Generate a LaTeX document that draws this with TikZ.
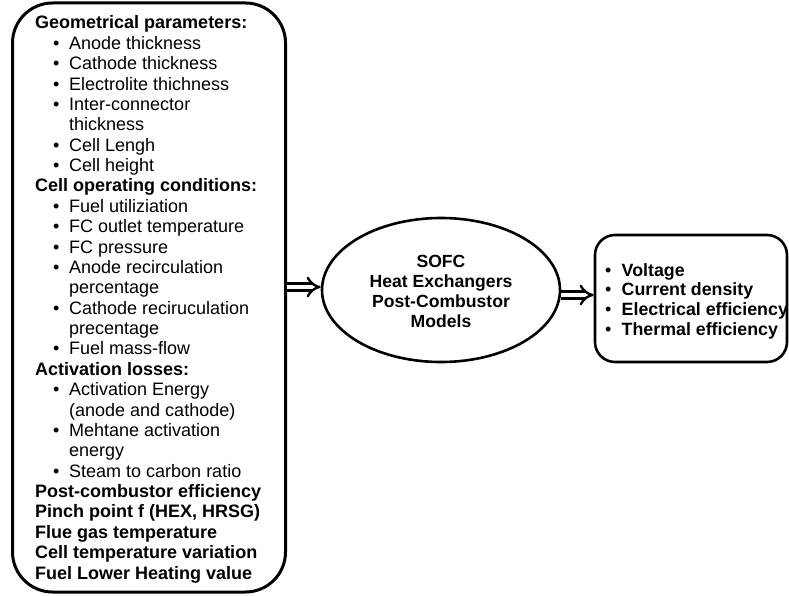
\documentclass[tikz,border=0pt]{standalone}
\usepackage{fontspec}
\setmainfont{Liberation Sans}
\usetikzlibrary{arrows.meta,shapes.geometric}
\tikzset{
  frame/.style={draw=black, line width=3pt, rounded corners=40pt},
  outframe/.style={draw=black, line width=2.6pt, rounded corners=20pt},
  modelshape/.style={draw=black, line width=2.6pt, ellipse, inner sep=0pt},
  hdr/.style={anchor=base west, inner sep=0pt, font=\fontsize{18pt}{20pt}\selectfont\bfseries},
  itm/.style={anchor=base west, inner sep=0pt, font=\fontsize{18pt}{20pt}\selectfont},
  bul/.style={anchor=base west, inner sep=0pt, font=\fontsize{18pt}{20pt}\selectfont},
  ctr/.style={anchor=base, inner sep=0pt, font=\fontsize{17.6pt}{20pt}\selectfont\bfseries},
  obul/.style={anchor=base west, inner sep=0pt, font=\fontsize{18pt}{20pt}\selectfont},
  otxt/.style={anchor=base west, inner sep=0pt, font=\fontsize{17.8pt}{20pt}\selectfont\bfseries},
  flow/.style={draw=black, double=white, double distance=4.5pt, line width=2.4pt, -{Implies[scale=1.1]}},
}
\begin{document}
\begin{tikzpicture}[x=1pt,y=-1pt]
\useasboundingbox (0,0) rectangle (789,596);
% boxes
\node (inputs) [frame, minimum width=273pt, minimum height=589pt] at (149,297.5) {};
\node (model) [modelshape, minimum width=238pt, minimum height=144pt] at (441,290) {};
\node (outputs) [outframe, minimum width=192pt, minimum height=127pt] at (691,298.5) {};
% left box text
\node (l1) [hdr] at (35,29) {Geometrical parameters:};
\node (b2) [bul] at (53,49.4) {•}; \node (l2) [itm] at (69,49.4) {Anode thickness};
\node (b3) [bul] at (53,69.7) {•}; \node (l3) [itm] at (69,69.7) {Cathode thickness};
\node (b4) [bul] at (53,90.1) {•}; \node (l4) [itm] at (69,90.1) {Electrolite thichness};
\node (b5) [bul] at (53,110.5) {•}; \node (l5) [itm] at (69,110.5) {Inter-connector};
\node (l6) [itm] at (69,130.9) {thickness};
\node (b7) [bul] at (53,151.2) {•}; \node (l7) [itm] at (69,151.2) {Cell Lengh};
\node (b8) [bul] at (53,171.6) {•}; \node (l8) [itm] at (69,171.6) {Cell height};
\node (l9) [hdr] at (35,192.0) {Cell operating conditions:};
\node (b10) [bul] at (53,212.3) {•}; \node (l10) [itm] at (69,212.3) {Fuel utiliziation};
\node (b11) [bul] at (53,232.7) {•}; \node (l11) [itm] at (69,232.7) {FC outlet temperature};
\node (b12) [bul] at (53,253.1) {•}; \node (l12) [itm] at (69,253.1) {FC pressure};
\node (b13) [bul] at (53,273.4) {•}; \node (l13) [itm] at (69,273.4) {Anode recirculation};
\node (l14) [itm] at (69,293.8) {percentage};
\node (b15) [bul] at (53,314.2) {•}; \node (l15) [itm] at (69,314.2) {Cathode reciruculation};
\node (l16) [itm] at (69,334.6) {precentage};
\node (b17) [bul] at (53,354.9) {•}; \node (l17) [itm] at (69,354.9) {Fuel mass-flow};
\node (l18) [hdr] at (35,375.3) {Activation losses:};
\node (b19) [bul] at (53,395.7) {•}; \node (l19) [itm] at (69,395.7) {Activation Energy};
\node (l20) [itm] at (69,416.0) {(anode and cathode)};
\node (b21) [bul] at (53,436.4) {•}; \node (l21) [itm] at (69,436.4) {Mehtane activation};
\node (l22) [itm] at (69,456.8) {energy};
\node (b23) [bul] at (53,477.1) {•}; \node (l23) [itm] at (69,477.1) {Steam to carbon ratio};
\node (l24) [hdr] at (35,497.5) {Post-combustor efficiency};
\node (l25) [hdr] at (35,517.9) {Pinch point f (HEX, HRSG)};
\node (l26) [hdr] at (35,538.3) {Flue gas temperature};
\node (l27) [hdr] at (35,558.6) {Cell temperature variation};
\node (l28) [hdr] at (35,579.0) {Fuel Lower Heating value};
% ellipse text
\node (m1) [ctr] at (441,267) {SOFC};
\node (m2) [ctr] at (441,287) {Heat Exchangers};
\node (m3) [ctr] at (441,307) {Post-Combustor};
\node (m4) [ctr] at (441,327) {Models};
% right box text
\node (ob1) [obul] at (605,276) {•}; \node (o1) [otxt] at (621.5,276) {Voltage};
\node (ob2) [obul] at (605,295.7) {•}; \node (o2) [otxt] at (621.5,295.7) {Current density};
\node (ob3) [obul] at (605,315.3) {•}; \node (o3) [otxt] at (621.5,315.3) {Electrical efficiency};
\node (ob4) [obul] at (605,335) {•}; \node (o4) [otxt] at (621.5,335) {Thermal efficiency};
% connectors
\draw[flow] ([yshift=3pt]inputs.east |- model.west) -- ([yshift=3pt]model.west);
\draw[flow] ([yshift=-5pt]model.east) -- ([yshift=-5pt]model.east -| outputs.west);
\end{tikzpicture}
\end{document}
